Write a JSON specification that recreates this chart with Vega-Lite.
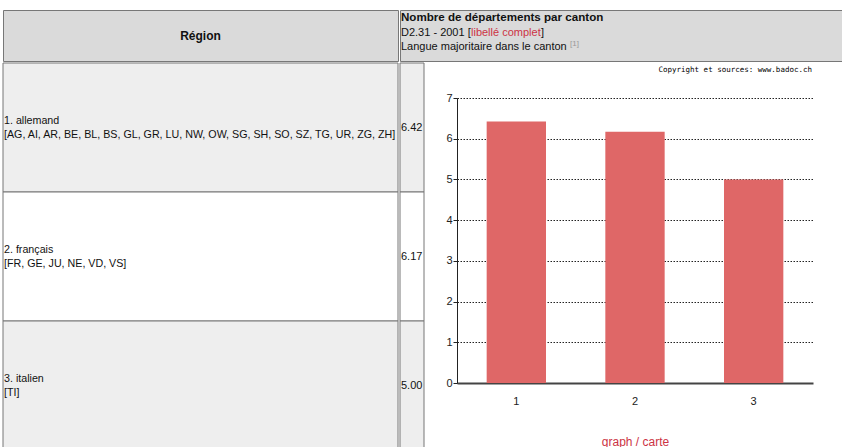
{
  "$schema": "https://vega.github.io/schema/vega-lite/v6.json",
  "padding": {"top": 9, "left": 2, "right": 0, "bottom": 0},
  "background": "white",
  "spacing": 0,
  "config": {
    "view": {"stroke": null},
    "font": "Liberation Sans",
    "concat": {"spacing": 0}
  },
  "datasets": {
    "regions": [
      {"rang": 1, "region": "1. allemand", "cantons": "[AG, AI, AR, BE, BL, BS, GL, GR, LU, NW, OW, SG, SH, SO, SZ, TG, UR, ZG, ZH]", "valeur": 6.42},
      {"rang": 2, "region": "2. français", "cantons": "[FR, GE, JU, NE, VD, VS]", "valeur": 6.17},
      {"rang": 3, "region": "3. italien", "cantons": "[TI]", "valeur": 5.00}
    ],
    "entete": [
      {"ligne": 0, "partie": "colonne", "texte": "Région"},
      {"ligne": 1, "partie": "titre", "texte": "Nombre de départements par canton"},
      {"ligne": 2, "partie": "code", "texte": "D2.31 - 2001 ["},
      {"ligne": 2, "partie": "lien", "texte": "libellé complet"},
      {"ligne": 2, "partie": "fin", "texte": "]"},
      {"ligne": 3, "partie": "sous-titre", "texte": "Langue majoritaire dans le canton"},
      {"ligne": 3, "partie": "note", "texte": "[1]"},
      {"ligne": 4, "partie": "copyright", "texte": "Copyright et sources: www.badoc.ch"}
    ]
  },
  "vconcat": [
    {
      "spacing": 0,
      "hconcat": [
        {
          "width": 395,
          "height": 51,
          "view": {"fill": "#dadada", "stroke": "#777777"},
          "data": {"name": "entete"},
          "transform": [{"filter": "datum.partie === 'colonne'"}],
          "mark": {"type": "text", "fontWeight": "bold", "fontSize": 12, "color": "#111"},
          "encoding": {"text": {"field": "texte"}}
        },
        {
          "width": 445,
          "height": 51,
          "view": {"fill": "#dadada", "stroke": "#777777"},
          "data": {"name": "entete"},
          "transform": [{"filter": "datum.ligne > 0 && datum.ligne < 4"}],
          "encoding": {
            "y": {"field": "ligne", "type": "ordinal", "scale": {"type": "point", "range": [8, 37], "padding": 0}, "axis": null}
          },
          "layer": [
            {
              "transform": [{"filter": "datum.partie === 'titre'"}],
              "mark": {"type": "text", "align": "left", "fontWeight": "bold", "fontSize": 11.6, "color": "#111"},
              "encoding": {"x": {"value": 1}, "text": {"field": "texte"}}
            },
            {
              "transform": [{"filter": "datum.partie === 'code' || datum.partie === 'sous-titre'"}],
              "mark": {"type": "text", "align": "left", "fontSize": 11, "color": "#111"},
              "encoding": {"x": {"value": 1}, "text": {"field": "texte"}}
            },
            {
              "transform": [{"filter": "datum.partie === 'lien'"}],
              "mark": {"type": "text", "align": "left", "fontSize": 11, "color": "#cc3344", "dx": 70},
              "encoding": {"x": {"value": 1}, "text": {"field": "texte"}}
            },
            {
              "transform": [{"filter": "datum.partie === 'fin'"}],
              "mark": {"type": "text", "align": "left", "fontSize": 11, "color": "#111", "dx": 140},
              "encoding": {"x": {"value": 1}, "text": {"field": "texte"}}
            },
            {
              "transform": [{"filter": "datum.partie === 'note'"}],
              "mark": {"type": "text", "align": "left", "fontSize": 8, "color": "#999999", "dx": 169, "dy": -3},
              "encoding": {"x": {"value": 1}, "text": {"field": "texte"}}
            }
          ]
        }
      ]
    },
    {
      "spacing": 0,
      "hconcat": [
        {
          "width": 395,
          "height": 387,
          "data": {"name": "regions"},
          "encoding": {
            "y": {"field": "rang", "type": "ordinal", "scale": {"paddingInner": 0, "paddingOuter": 0}, "axis": null}
          },
          "layer": [
            {
              "mark": {"type": "rect", "stroke": "#777777", "strokeWidth": 1},
              "encoding": {
                "fill": {"field": "rang", "type": "ordinal", "scale": {"domain": [1, 2, 3], "range": ["#eeeeee", "#ffffff", "#eeeeee"]}, "legend": null}
              }
            },
            {
              "mark": {"type": "text", "align": "left", "fontSize": 10.7, "color": "#111", "dy": -7},
              "encoding": {"x": {"value": 1}, "text": {"field": "region"}}
            },
            {
              "mark": {"type": "text", "align": "left", "fontSize": 10.7, "color": "#111", "dy": 7},
              "encoding": {"x": {"value": 1}, "text": {"field": "cantons"}}
            }
          ]
        },
        {
          "width": 24,
          "height": 387,
          "data": {"name": "regions"},
          "encoding": {
            "y": {"field": "rang", "type": "ordinal", "scale": {"paddingInner": 0, "paddingOuter": 0}, "axis": null}
          },
          "layer": [
            {
              "mark": {"type": "rect", "stroke": "#777777", "strokeWidth": 1},
              "encoding": {
                "fill": {"field": "rang", "type": "ordinal", "scale": {"domain": [1, 2, 3], "range": ["#eeeeee", "#ffffff", "#eeeeee"]}, "legend": null}
              }
            },
            {
              "mark": {"type": "text", "align": "left", "fontSize": 11, "color": "#111"},
              "encoding": {"x": {"value": 1}, "text": {"field": "valeur", "type": "quantitative", "format": ".2f"}}
            }
          ]
        },
        {
          "spacing": 11,
          "vconcat": [
            {
              "width": 356,
              "height": 18,
              "data": {"name": "entete"},
              "transform": [{"filter": "datum.partie === 'copyright'"}],
              "mark": {"type": "text", "align": "right", "dx": 177, "dy": -2, "font": "DejaVu Sans Mono", "fontSize": 7.5, "color": "#000000"},
              "encoding": {"text": {"field": "texte"}}
            },
            {
              "width": 356,
              "height": 285,
              "data": {"name": "regions"},
              "mark": {"type": "bar", "color": "#df6767"},
              "encoding": {
                "x": {
                  "field": "rang",
                  "type": "ordinal",
                  "scale": {"paddingInner": 0.5, "paddingOuter": 0.25},
                  "axis": {
                    "title": "graph / carte",
                    "titleColor": "#cc3344",
                    "titleFontSize": 12,
                    "titleFontWeight": "normal",
                    "titlePadding": 30,
                    "labelAngle": 0,
                    "ticks": false,
                    "labelPadding": 12,
                    "domainColor": "#444444",
                    "domainWidth": 2,
                    "labelFontSize": 11,
                    "labelColor": "#222222",
                    "grid": false
                  }
                },
                "y": {
                  "field": "valeur",
                  "type": "quantitative",
                  "scale": {"domain": [0, 7]},
                  "axis": {
                    "title": null,
                    "values": [0, 1, 2, 3, 4, 5, 6, 7],
                    "minExtent": 32,
                    "maxExtent": 32,
                    "grid": true,
                    "gridDash": [1.5, 1.5],
                    "gridColor": "#222222",
                    "gridOpacity": 1,
                    "domainColor": "#222222",
                    "tickSize": 4,
                    "tickColor": "#222222",
                    "labelPadding": 1,
                    "labelFontSize": 11,
                    "labelColor": "#222222"
                  }
                }
              }
            }
          ]
        }
      ]
    }
  ]
}
